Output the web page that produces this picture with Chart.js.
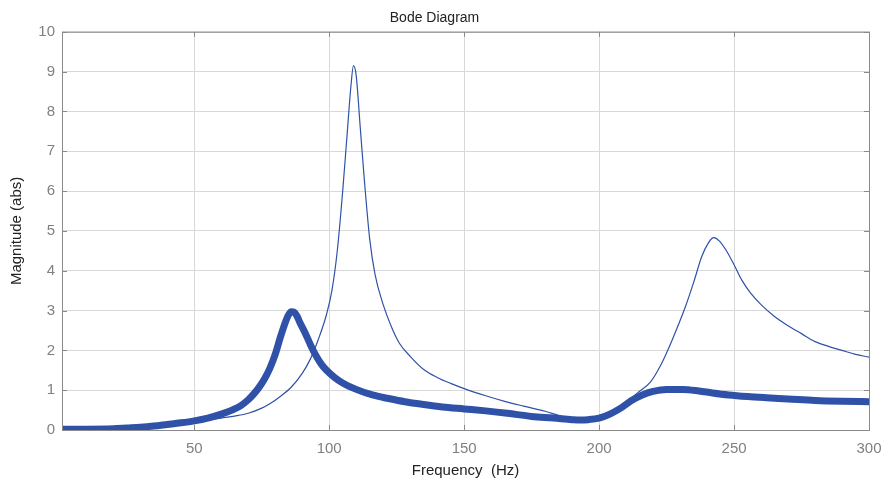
<!DOCTYPE html>
<html lang="en">
<head>
    <meta charset="UTF-8">
    <title>Bode Diagram</title>
    <script src="https://cdn.jsdelivr.net/npm/chart.js"></script>
    <style>
        html, body { margin: 0; padding: 0; background: #fff; }
        .chart-container { position: relative; width: 882px; height: 486px; }
    </style>
</head>
<body>
    <div class="chart-container">
        <canvas id="bodeChart"></canvas>
    </div>
    <script>
        // Thick response (measured), frequency in Hz
        const freqA = [1, 10, 20, 25, 30, 35, 40, 45, 50, 55, 60, 64, 67, 70, 72, 74, 76, 78, 80, 82, 84, 85, 86, 87, 88, 89, 91, 93, 95, 97, 99, 102, 105, 110, 116, 122, 128, 135, 142, 150, 158, 166, 175, 183, 190, 193, 196, 200, 204, 208, 212, 216, 220, 225, 231, 237, 242, 248, 255, 262, 270, 280, 290, 300];
        const magA = [0.02, 0.02, 0.03, 0.05, 0.07, 0.10, 0.14, 0.18, 0.23, 0.30, 0.40, 0.50, 0.60, 0.76, 0.90, 1.07, 1.28, 1.55, 1.90, 2.35, 2.75, 2.90, 2.97, 2.96, 2.87, 2.72, 2.45, 2.15, 1.88, 1.66, 1.50, 1.32, 1.18, 1.02, 0.88, 0.79, 0.71, 0.64, 0.58, 0.53, 0.48, 0.42, 0.34, 0.30, 0.26, 0.25, 0.26, 0.30, 0.40, 0.55, 0.74, 0.88, 0.97, 1.02, 1.02, 0.98, 0.93, 0.88, 0.84, 0.81, 0.78, 0.74, 0.72, 0.71];

        // Thin response (model)
        const freqB = [1, 10, 20, 30, 40, 50, 55, 60, 65, 70, 75, 78, 82, 86, 90, 93, 96, 99, 101, 103, 105, 106.5, 108, 109, 110, 111.5, 113, 115, 117, 120, 123, 126, 130, 135, 140, 145, 150, 158, 165, 172, 180, 186, 190, 195, 200, 205, 210, 214, 219, 223, 227, 232, 235, 238, 240.5, 242.5, 244.5, 247, 250, 253, 256, 260, 265, 270, 275, 280, 285, 290, 295, 300];
        const magB = [0.02, 0.02, 0.03, 0.07, 0.13, 0.20, 0.25, 0.30, 0.35, 0.42, 0.55, 0.66, 0.85, 1.08, 1.42, 1.78, 2.28, 2.90, 3.50, 4.50, 6.00, 7.30, 8.60, 9.15, 8.90, 7.60, 6.30, 4.80, 3.90, 3.15, 2.60, 2.18, 1.85, 1.52, 1.32, 1.17, 1.04, 0.86, 0.72, 0.60, 0.47, 0.35, 0.29, 0.26, 0.30, 0.47, 0.68, 0.92, 1.20, 1.65, 2.25, 3.10, 3.70, 4.35, 4.70, 4.83, 4.75, 4.52, 4.15, 3.75, 3.45, 3.15, 2.85, 2.62, 2.42, 2.22, 2.10, 2.00, 1.90, 1.83];

        const xTicks = [50, 100, 150, 200, 250, 300];
        const yTicks = [0, 1, 2, 3, 4, 5, 6, 7, 8, 9, 10];

        const lineColor = '#2f52a8';
        const toPoints = (xs, ys) => xs.map((x, i) => ({ x: x, y: ys[i] }));

        // frame around plot area plus small inward tick marks
        const framePlugin = {
            id: 'frame',
            afterDraw(chart) {
                const { ctx, chartArea: a, scales } = chart;
                ctx.save();
                ctx.strokeStyle = '#8a8a8a';
                ctx.lineWidth = 1;
                ctx.strokeRect(a.left + 0.5, a.top + 0.5, a.right - a.left, a.bottom - a.top);
                ctx.beginPath();
                xTicks.forEach(v => {
                    const px = Math.round(scales.x.getPixelForValue(v)) + 0.5;
                    ctx.moveTo(px, a.bottom); ctx.lineTo(px, a.bottom - 5);
                    ctx.moveTo(px, a.top); ctx.lineTo(px, a.top + 5);
                });
                yTicks.forEach(v => {
                    const py = Math.round(scales.y.getPixelForValue(v)) + 0.5;
                    ctx.moveTo(a.left, py); ctx.lineTo(a.left + 5, py);
                    ctx.moveTo(a.right, py); ctx.lineTo(a.right - 5, py);
                });
                ctx.stroke();
                ctx.restore();
            }
        };

        Chart.defaults.font.family = '"Liberation Sans", Arial, sans-serif';

        const ctx = document.getElementById('bodeChart').getContext('2d');
        const bodeChart = new Chart(ctx, {
            type: 'line',
            data: {
                datasets: [{
                    label: 'Measured',
                    data: toPoints(freqA, magA),
                    borderColor: lineColor,
                    borderWidth: 7,
                    borderCapStyle: 'round',
                    borderJoinStyle: 'round',
                    pointRadius: 0,
                    cubicInterpolationMode: 'monotone'
                }, {
                    label: 'Model',
                    data: toPoints(freqB, magB),
                    borderColor: lineColor,
                    borderWidth: 1.2,
                    pointRadius: 0,
                    cubicInterpolationMode: 'monotone'
                }]
            },
            options: {
                responsive: true,
                maintainAspectRatio: false,
                animation: false,
                layout: { padding: { right: 13, left: 0 } },
                plugins: {
                    legend: { display: false },
                    tooltip: { enabled: false },
                    title: {
                        display: true,
                        text: 'Bode Diagram',
                        color: '#222',
                        font: { size: 14, weight: 'normal' },
                        padding: { top: 10, bottom: 5 }
                    }
                },
                scales: {
                    x: {
                        type: 'linear',
                        min: 1,
                        max: 300,
                        afterBuildTicks: axis => { axis.ticks = xTicks.map(v => ({ value: v })); },
                        afterFit: scale => {
                            scale.height = 56;
                            scale.paddingLeft = 0;
                            scale.paddingRight = 0;
                        },
                        grid: { color: '#d8d8d8', drawTicks: false },
                        border: { display: false },
                        ticks: { color: '#808080', font: { size: 15 }, padding: 10, maxRotation: 0 },
                        title: {
                            display: true,
                            text: 'Frequency  (Hz)',
                            color: '#222',
                            font: { size: 15 },
                            padding: { top: 2, bottom: 6 }
                        }
                    },
                    y: {
                        min: 0,
                        max: 10,
                        afterBuildTicks: axis => { axis.ticks = yTicks.map(v => ({ value: v })); },
                        afterFit: scale => { scale.width = 62; },
                        grid: { color: '#d8d8d8', drawTicks: false },
                        border: { display: false },
                        ticks: { color: '#808080', font: { size: 15 }, padding: 7 },
                        title: {
                            display: true,
                            text: 'Magnitude (abs)',
                            color: '#222',
                            font: { size: 15 },
                            padding: { top: 8, bottom: 4 }
                        }
                    }
                }
            },
            plugins: [framePlugin]
        });
    </script>
</body>
</html>
